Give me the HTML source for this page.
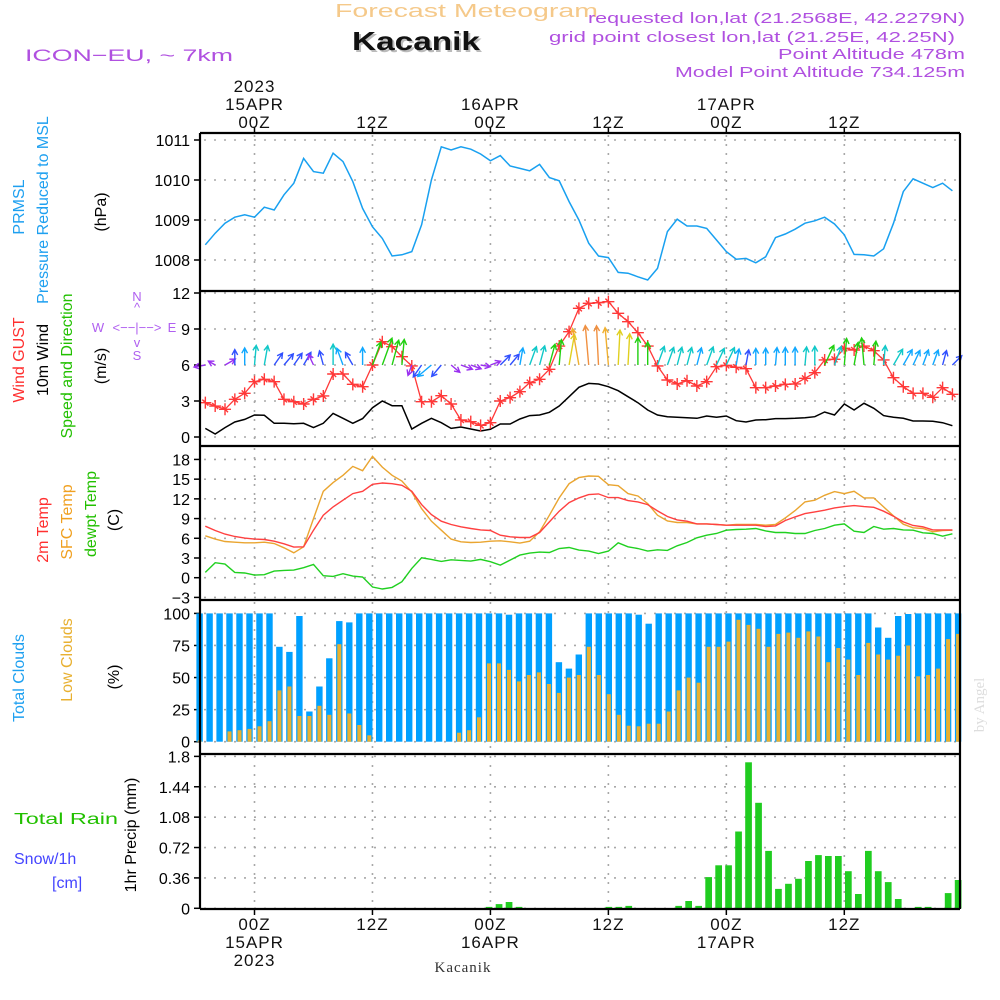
<!DOCTYPE html>
<html><head><meta charset="utf-8"><title>Forecast Meteogram Kacanik</title>
<style>
html,body{margin:0;padding:0;background:#fff;}
svg{display:block;font-family:"Liberation Sans",sans-serif;}
</style></head>
<body>
<svg id="chart" width="1000" height="1000" viewBox="0 0 1000 1000" xmlns="http://www.w3.org/2000/svg">
<rect x="0" y="0" width="1000" height="1000" fill="#fff"/>
<g>
<text x="335" y="17" font-size="18" fill="#f5c98a" textLength="263" lengthAdjust="spacingAndGlyphs">Forecast Meteogram</text>
<text x="354" y="52" font-size="26" font-weight="bold" fill="#bbb" textLength="128" lengthAdjust="spacingAndGlyphs">Kacanik</text>
<text x="352" y="50" font-size="26" font-weight="bold" fill="#111" textLength="128" lengthAdjust="spacingAndGlyphs">Kacanik</text>
<text x="965" y="23" font-size="15" fill="#b050e0" text-anchor="end" textLength="377" lengthAdjust="spacingAndGlyphs">requested lon,lat (21.2568E, 42.2279N)</text>
<text x="955" y="42" font-size="15" fill="#b050e0" text-anchor="end" textLength="406" lengthAdjust="spacingAndGlyphs">grid point closest lon,lat (21.25E, 42.25N)</text>
<text x="965" y="59" font-size="15" fill="#b050e0" text-anchor="end" textLength="187" lengthAdjust="spacingAndGlyphs">Point Altitude 478m</text>
<text x="965" y="77" font-size="15" fill="#b050e0" text-anchor="end" textLength="290" lengthAdjust="spacingAndGlyphs">Model Point Altitude 734.125m</text>
<text x="25" y="61" font-size="17" fill="#b050e0" textLength="208" lengthAdjust="spacingAndGlyphs">ICON−EU, ~ 7km</text>
</g>
<g>
<text transform="translate(24,207) rotate(-90)" font-size="16" fill="#1ea0f0" text-anchor="middle">PRMSL</text>
<text transform="translate(48,210) rotate(-90)" font-size="16" fill="#1ea0f0" text-anchor="middle">Pressure Reduced to MSL</text>
<text transform="translate(106,212) rotate(-90)" font-size="16" fill="#000" text-anchor="middle">(hPa)</text>
<text transform="translate(24,360) rotate(-90)" font-size="16" fill="#ff3030" text-anchor="middle">Wind GUST</text>
<text transform="translate(48,360) rotate(-90)" font-size="16" fill="#000" text-anchor="middle">10m Wind</text>
<text transform="translate(72,366) rotate(-90)" font-size="16" fill="#22c000" text-anchor="middle">Speed and Direction</text>
<text transform="translate(106,366) rotate(-90)" font-size="16" fill="#000" text-anchor="middle">(m/s)</text>
<g fill="#b060f0" font-size="13">
<text x="137" y="301" text-anchor="middle">N</text>
<text x="137" y="312" text-anchor="middle">^</text>
<text x="98" y="332" text-anchor="middle">W</text>
<text x="137" y="332" text-anchor="middle">&lt;−−|−−&gt;</text>
<text x="172" y="332" text-anchor="middle">E</text>
<text x="137" y="347" text-anchor="middle">v</text>
<text x="137" y="360" text-anchor="middle">S</text>
</g>
<text transform="translate(48,530) rotate(-90)" font-size="16" fill="#ff3030" text-anchor="middle">2m Temp</text>
<text transform="translate(72,522) rotate(-90)" font-size="16" fill="#f0a020" text-anchor="middle">SFC Temp</text>
<text transform="translate(96,514) rotate(-90)" font-size="16" fill="#22c000" text-anchor="middle">dewpt Temp</text>
<text transform="translate(119,520) rotate(-90)" font-size="16" fill="#000" text-anchor="middle">(C)</text>
<text transform="translate(24,678) rotate(-90)" font-size="16" fill="#1ea0f0" text-anchor="middle">Total Clouds</text>
<text transform="translate(72,660) rotate(-90)" font-size="16" fill="#e8b030" text-anchor="middle">Low Clouds</text>
<text transform="translate(119,677) rotate(-90)" font-size="16" fill="#000" text-anchor="middle">(%)</text>
<text transform="translate(136,835) rotate(-90)" font-size="16" fill="#000" text-anchor="middle">1hr Precip (mm)</text>
<text x="14" y="824" font-size="16" fill="#22c000" textLength="104" lengthAdjust="spacingAndGlyphs">Total  Rain</text>
<text x="14" y="864" font-size="16" fill="#4444ff">Snow/1h</text>
<text x="52" y="888" font-size="16" fill="#4444ff">[cm]</text>
<text transform="translate(984,705) rotate(-90)" font-size="15" fill="#ddd" text-anchor="middle" font-family="Liberation Serif, serif">by Angel</text>
<text x="463" y="972" font-size="15" fill="#333" text-anchor="middle" font-family="Liberation Serif, serif" letter-spacing="1">Kacanik</text>
</g>
<g id="plots"></g>
</svg>
<script>
const hours = [-5,-4,-3,-2,-1,0,1,2,3,4,5,6,7,8,9,10,11,12,13,14,15,16,17,18,19,20,21,22,23,24,25,26,27,28,29,30,31,32,33,34,35,36,37,38,39,40,41,42,43,44,45,46,47,48,49,50,51,52,53,54,55,56,57,58,59,60,61,62,63,64,65,66,67,68,69,70,71];
const pressure = [1008.38,1008.67,1008.92,1009.07,1009.13,1009.07,1009.32,1009.25,1009.63,1009.92,1010.54,1010.21,1010.17,1010.67,1010.46,1009.96,1009.29,1008.83,1008.54,1008.10,1008.13,1008.21,1008.88,1010.0,1010.83,1010.75,1010.83,1010.77,1010.65,1010.48,1010.61,1010.35,1010.29,1010.23,1010.39,1010.06,1009.98,1009.46,1009.0,1008.42,
1008.10,1008.06,1007.69,1007.67,1007.58,1007.5,1007.79,1008.71,1009.02,1008.85,1008.85,1008.79,1008.5,1008.21,1008.02,1008.04,1007.93,1008.08,1008.56,1008.65,1008.77,1008.92,1008.98,1009.07,1008.9,1008.63,1008.14,1008.13,1008.10,1008.28,1008.92,1009.71,1010.03,1009.92,1009.81,1009.92,1009.73];
const windGust = [2.86,2.58,2.31,3.14,3.64,4.61,4.81,4.61,3.14,2.94,2.75,3.14,3.42,5.25,5.25,4.39,4.19,6.0,7.94,7.53,6.69,5.92,2.94,2.94,3.44,2.75,1.42,1.28,0.97,1.19,3.0,3.28,3.78,4.53,4.81,5.64,7.58,8.78,10.72,11.14,
11.19,11.28,10.31,9.61,8.69,7.58,5.92,4.75,4.42,4.69,4.25,4.61,5.86,5.97,5.81,5.69,4.11,4.11,4.25,4.39,4.42,4.89,5.36,6.42,6.47,7.39,7.25,7.58,7.19,6.42,4.94,4.19,3.64,3.64,3.31,4.11,3.56];
const windSpeed = [0.72,0.25,0.78,1.25,1.47,1.83,1.81,1.14,1.14,1.11,1.14,0.78,1.14,1.97,1.56,1.14,1.53,2.44,3.0,2.61,2.61,0.67,1.14,1.56,1.19,0.72,0.83,0.67,0.5,0.64,1.08,1.08,1.5,1.78,1.83,2.06,2.58,3.36,4.14,4.47,
4.42,4.19,3.86,3.36,2.86,2.25,1.83,1.69,1.64,1.61,1.56,1.75,1.64,1.75,1.36,1.25,1.42,1.44,1.53,1.53,1.56,1.61,1.69,2.08,1.83,2.75,2.25,2.81,2.39,1.78,1.64,1.56,1.33,1.33,1.31,1.19,0.94];
const windDir = [-100,-60,60,0,0,5,10,35,40,35,30,-25,-15,0,-20,-30,0,20,20,15,5,200,215,230,220,130,110,110,100,70,45,40,10,20,15,15,5,10,-10,-5,
-3,-5,3,3,0,0,20,20,15,15,15,20,25,25,10,10,0,0,5,0,0,5,0,25,20,5,10,-5,5,5,30,30,25,20,20,15,45];
const temp2m = [7.84,7.18,6.63,6.27,6.02,5.87,5.82,5.56,5.16,4.65,4.7,7.23,9.51,10.77,11.79,12.8,13.15,14.21,14.42,14.31,14.06,13.15,11.13,9.61,8.6,8.09,7.74,7.49,7.28,7.18,6.47,6.22,6.12,6.12,6.88,8.5,10.12,11.43,12.14,
12.65,12.75,12.19,12.19,11.73,11.53,11.13,10.17,9.31,8.8,8.6,8.19,8.19,8.09,7.99,7.99,7.99,7.99,7.79,7.89,8.7,9.26,9.76,10.02,10.27,10.62,10.82,10.98,10.82,10.72,10.12,9.36,8.5,7.94,7.74,7.28,7.28,7.28];
const tempSfc = [6.37,5.87,5.51,5.41,5.31,5.31,5.41,5.21,4.55,3.79,4.7,9.0,13.15,14.47,15.58,16.94,16.29,18.46,16.84,15.58,14.72,13.05,10.52,8.6,7.23,5.87,5.46,5.36,5.41,5.56,5.61,5.46,5.26,5.56,6.98,9.51,12.14,14.31,15.23,
15.48,15.43,14.16,14.01,12.8,12.44,11.28,9.51,8.65,8.4,8.4,8.19,8.19,8.09,7.99,8.09,8.09,8.09,7.99,8.09,9.1,10.22,11.53,11.79,12.54,13.1,12.8,13.15,12.14,12.14,10.77,9.41,8.14,7.59,7.49,6.98,7.18,7.23];
const dewpt = [0.81,2.28,2.07,0.81,0.71,0.4,0.46,1.01,1.11,1.16,1.52,2.02,0.3,0.2,0.61,0.25,0.1,-1.42,-1.72,-1.47,-0.61,1.42,3.03,2.78,2.48,2.73,2.63,2.53,2.78,2.43,1.92,2.68,3.44,3.74,3.89,3.84,4.45,4.6,4.2,
4.05,3.69,4.05,5.31,4.7,4.45,4.05,4.25,4.15,4.86,5.36,6.07,6.47,6.73,7.23,7.33,7.38,7.49,7.13,6.88,6.88,6.73,6.73,7.18,7.49,7.99,8.19,7.08,6.88,7.79,7.38,7.49,7.28,7.23,6.83,6.73,6.32,6.68];
const totalClouds = [100,100,100,100,100,100,100,100,74,70,98,23.5,43,65,94,93,100,100,100,100,100,100,100,100,100,100,100,100,100,100,100,99,100,100,100,100,62,57,68,100,100,100,100,100,99,92,100,100,100,100,100,100,100,100,100,100,100,100,100,100,100,100,100,100,100,100,100,100,89,81,98,99.5,100,100,100,100,100];
const lowClouds = [1,0,0,8,9,10,12,16,40,43,20,20,28,21,76,22,13,5,0,0,0,0,0,0,0,0,7,9,19,61,61,56,47,52,54,45,38,50,52,74,52,37,21,12.5,12,14,14,23.5,40,50,46,74,74,78,95,91,88,74,84,85,81,86,82,62,73,64,52,77,68,64,67,75,51,52,57,80,84];
const precip = [0,0,0,0,0,0,0,0,0,0,0,0,0,0,0,0,0,0,0,0,0,0,0,0,0,0,0,0,0,0.016,0.05,0.075,0.016,0.004,0,0,0,0,0,0,0,0.016,0.016,0.028,0,0,0,0,0.028,0.087,0.028,0.37,0.51,0.51,0.91,1.73,1.25,0.68,0.23,0.29,0.35,0.56,0.63,0.62,0.62,0.44,0.17,0.68,0.44,0.31,0.11,0,0.016,0.016,0,0.18,0.335];
const timeTicks = [0,12,24,36,48,60];
const topLabels = [["2023","15APR","00Z"],["","","12Z"],["","16APR","00Z"],["","","12Z"],["","17APR","00Z"],["","","12Z"]];
const bottomLabels = [["00Z","15APR","2023"],["12Z","",""],["00Z","16APR",""],["12Z","",""],["00Z","17APR",""],["12Z","",""]];
const pressureTicks = [1011,1010,1009,1008];
const windTicks = [12,9,6,3,0];
const tempTicks = [18,15,12,9,6,3,0,-3];
const cloudTicks = [100,75,50,25,0];
const precipTicks = [1.8,1.44,1.08,0.72,0.36,0];

const NS = "http://www.w3.org/2000/svg";
const root = document.getElementById("plots");
const X0 = 200, X1 = 960;
function xL(t){ return 254.5 + t*9.83; }
function xB(t){ return 249.5 + t*9.98; }
function yP(v){ return 140 + (1011 - v)*40; }
function yW(v){ return 437 - v*12; }
function yT(v){ return 577.7 - v*6.57; }
function yC(v){ return 741.7 - v*1.283; }
function yR(v){ return 908.3 - v*84.4; }
function mk(tag, attrs, parent){
  const e = document.createElementNS(NS, tag);
  for (const k in attrs) e.setAttribute(k, attrs[k]);
  (parent || root).appendChild(e);
  return e;
}
const panels = [
  {name:"pressure", top:133, bottom:291, ticks:pressureTicks, y:yP, fmt:v=>String(v)},
  {name:"wind", top:291, bottom:446, ticks:windTicks, y:yW, fmt:v=>String(v)},
  {name:"temperature", top:446, bottom:600, ticks:tempTicks, y:yT, fmt:v=>String(v).replace("-","−")},
  {name:"clouds", top:600, bottom:754, ticks:cloudTicks, y:yC, fmt:v=>String(v)},
  {name:"precip", top:754, bottom:909, ticks:precipTicks, y:yR, fmt:v=>String(v)}
];
panels.forEach(p => {
  const g = mk("g", {});
  
  
  timeTicks.forEach(t => {
    const l = mk("line", {x1:xL(t), x2:xL(t), y1:p.top+2, y2:p.bottom-1, stroke:"#a8a8a8", "stroke-width":1.6, "stroke-dasharray":"2,7"}, g);
    
    
  });
  p.ticks.forEach(v => {
    const y = p.y(v);
    const l = mk("line", {x1:X0+4, x2:X1-2, y1:y, y2:y, stroke:"#a8a8a8", "stroke-width":1.6, "stroke-dasharray":"2,8"}, g);
    
    
    const tk = mk("line", {x1:X0-6, x2:X0, y1:y, y2:y, stroke:"#000", "stroke-width":1.5}, g);
    
    
    const tx = mk("text", {x:190, y:y+6, "font-size":16, "text-anchor":"end", fill:"#000"}, g);
    tx.textContent = p.fmt(v);
    
    
  });
});
const pPts = hours.map((t,i)=>xL(t).toFixed(1)+","+yP(pressure[i]).toFixed(1)).join(" ");
const pLine = mk("polyline", {points:pPts, fill:"none", stroke:"#18a0f0", "stroke-width":1.5});


const sLine = mk("polyline", {points:hours.map((t,i)=>xL(t).toFixed(1)+","+yW(windSpeed[i]).toFixed(1)).join(" "), fill:"none", stroke:"#000", "stroke-width":1.5});


const gLine = mk("polyline", {points:hours.map((t,i)=>xL(t).toFixed(1)+","+yW(windGust[i]).toFixed(1)).join(" "), fill:"none", stroke:"#ff3838", "stroke-width":1.3});


hours.forEach((t,i) => {
  const x = xL(t), y = yW(windGust[i]);
  const m = mk("path", {d:`M${x-6},${y}H${x+6}M${x},${y-6}V${y+6}M${x-3},${y-3}L${x+3},${y+3}`, stroke:"#ff3838", "stroke-width":1.4, fill:"none"});
  
  
});
function arrowColor(s){
  if (s < 0.9) return "#9a30f0";
  if (s < 1.3) return "#3050ff";
  if (s < 1.6) return "#10a8ff";
  if (s < 2.0) return "#10c8c8";
  if (s < 3.1) return "#20d010";
  if (s < 3.9) return "#e0d020";
  if (s < 4.3) return "#f0b030";
  return "#f09040";
}
hours.forEach((t,i) => {
  const s = windSpeed[i], a = windDir[i]*Math.PI/180;
  const L = 6 + 7.5*s;
  const bx = xL(t), by = yW(6);
  const tx = bx + L*Math.sin(a), ty = by - L*Math.cos(a);
  const h = 6, a1 = a + Math.PI - 0.5, a2 = a + Math.PI + 0.5;
  const d = `M${bx.toFixed(1)},${by}L${tx.toFixed(1)},${ty.toFixed(1)}M${(tx+h*Math.sin(a1)).toFixed(1)},${(ty-h*Math.cos(a1)).toFixed(1)}L${tx.toFixed(1)},${ty.toFixed(1)}L${(tx+h*Math.sin(a2)).toFixed(1)},${(ty-h*Math.cos(a2)).toFixed(1)}`;
  const ar = mk("path", {d:d, stroke:arrowColor(s), "stroke-width":1.4, fill:"none"});
  
  
});
[[tempSfc,"#eaa530","sfc-temp-line"],[temp2m,"#ff4040","temp-2m-line"],[dewpt,"#20d020","dewpoint-line"]].forEach(([arr,col,name]) => {
  const l = mk("polyline", {points:hours.map((t,i)=>xL(t).toFixed(1)+","+yT(arr[i]).toFixed(1)).join(" "), fill:"none", stroke:col, "stroke-width":1.4});
  
  
});
hours.forEach((t,i) => {
  const x = xB(t);
  const b = mk("rect", {x:(x-3.2).toFixed(1), y:yC(totalClouds[i]).toFixed(1), width:6.4, height:(yC(0)-yC(totalClouds[i])).toFixed(1), fill:"#00a0ff"});
  
  
  if (lowClouds[i] > 0) {
    const o = mk("rect", {x:(x-2).toFixed(1), y:yC(lowClouds[i]).toFixed(1), width:4, height:(yC(0)-yC(lowClouds[i])).toFixed(1), fill:"#e8b030"});
    
    
  }
});
hours.forEach((t,i) => {
  if (precip[i] <= 0) return;
  const x = xB(t);
  const b = mk("rect", {x:(x-3.3).toFixed(1), y:yR(precip[i]).toFixed(1), width:6.7, height:(yR(0)-yR(precip[i])).toFixed(1), fill:"#20cc20"});
  
  
});
const frame = mk("g", {stroke:"#000", "stroke-width":2.2, fill:"none"});


[133,291,446,600,754,909].forEach(y => {
  const l = mk("line", {x1:X0, x2:X1, y1:y, y2:y}, frame);
  
  
});
const lb = mk("line", {x1:X0, x2:X0, y1:133, y2:909}, frame);


const rb = mk("line", {x1:X1, x2:X1, y1:133, y2:909}, frame);


timeTicks.forEach((t,k) => {
  const x = xL(t);
  const a = mk("line", {x1:x, x2:x, y1:127, y2:133, stroke:"#000", "stroke-width":1.5});
  
  
  const b = mk("line", {x1:x, x2:x, y1:909, y2:915, stroke:"#000", "stroke-width":1.5});
  
  
  topLabels[k].forEach((s,j) => {
    if (!s) return;
    const tx = mk("text", {x:x, y:92+18*j, "font-size":17, "text-anchor":"middle", fill:"#111", "letter-spacing":1});
    tx.textContent = s;
    
    
  });
  bottomLabels[k].forEach((s,j) => {
    if (!s) return;
    const tx = mk("text", {x:x, y:930+18*j, "font-size":17, "text-anchor":"middle", fill:"#111", "letter-spacing":1});
    tx.textContent = s;
    
    
  });
});
</script>
</body></html>
